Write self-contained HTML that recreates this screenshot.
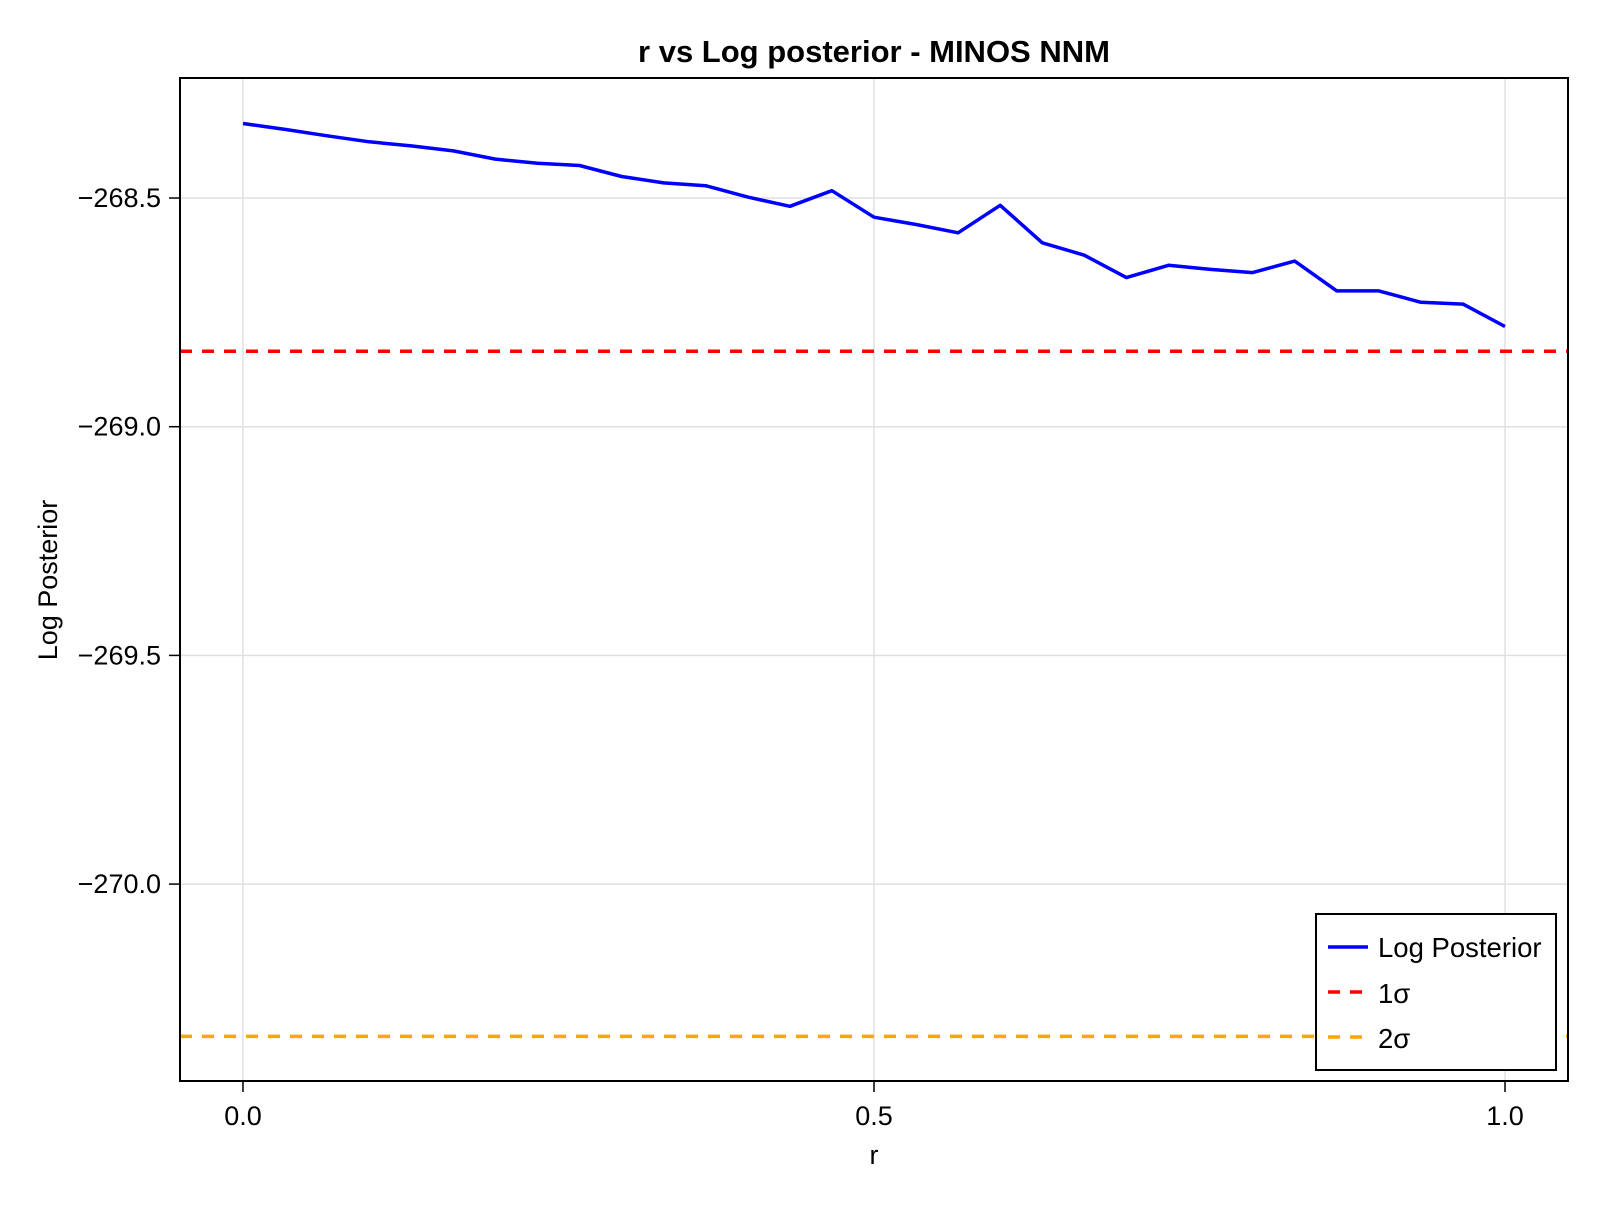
<!DOCTYPE html>
<html><head><meta charset="utf-8"><style>
html,body{margin:0;padding:0;background:#fff}
text{font-family:"Liberation Sans",sans-serif;fill:#000}
</style></head><body>
<svg id="chart" width="1600" height="1200" viewBox="0 0 1600 1200" xmlns="http://www.w3.org/2000/svg">
<rect width="1600" height="1200" fill="#fff"/>
<text x="874" y="62" text-anchor="middle" font-size="31" font-weight="bold">r vs Log posterior - MINOS NNM</text>
<g id="grid"></g>
<g id="lines"></g>
<rect x="180" y="78" width="1388" height="1003" fill="none" stroke="#000" stroke-width="2"/>
<g id="ticks"></g>
<text x="874" y="1164" text-anchor="middle" font-size="27">r</text>
<text transform="translate(57,580) rotate(-90)" text-anchor="middle" font-size="27">Log Posterior</text>
<g id="legend">
<rect x="1316" y="914" width="240" height="156" fill="#fff" stroke="#000" stroke-width="2"/>
<line x1="1328" y1="947" x2="1368" y2="947" stroke="#00f" stroke-width="3.5"/>
<text x="1378" y="957" font-size="27.5">Log Posterior</text>
<line x1="1328" y1="992" x2="1368" y2="992" stroke="#f00" stroke-width="3.5" stroke-dasharray="12,10"/>
<text x="1378" y="1003" font-size="27.5">1σ</text>
<line x1="1328" y1="1037" x2="1368" y2="1037" stroke="#ffa500" stroke-width="3.5" stroke-dasharray="12,10"/>
<text x="1378" y="1048" font-size="27.5">2σ</text>
</g>
</svg>
<script>
const rValues = [0,1/30,2/30,3/30,4/30,5/30,6/30,7/30,8/30,9/30,10/30,11/30,12/30,13/30,14/30,15/30,16/30,17/30,18/30,19/30,20/30,21/30,22/30,23/30,24/30,25/30,26/30,27/30,28/30,29/30,1];
const logPosterior = [-268.337,-268.350,-268.364,-268.377,-268.386,-268.397,-268.415,-268.424,-268.429,-268.453,-268.467,-268.473,-268.498,-268.518,-268.484,-268.542,-268.558,-268.576,-268.516,-268.598,-268.625,-268.674,-268.647,-268.656,-268.663,-268.638,-268.703,-268.703,-268.728,-268.732,-268.781];
const sigma1 = -268.835;
const sigma2 = -270.333;
const xTicks = [0,0.5,1.0];
const xTickLabels = ["0.0","0.5","1.0"];
const yTicks = [-268.5,-269.0,-269.5,-270.0];
const yTickLabels = ["−268.5","−269.0","−269.5","−270.0"];

const L=180,R=1568,T=78,B=1081;
const xMin=-0.0499,xMax=1.0499,yMin=-270.4305,yMax=-268.2376;
function xs(v){return L+(v-xMin)/(xMax-xMin)*(R-L);}
function ys(v){return B-(v-yMin)/(yMax-yMin)*(B-T);}
const NS="http://www.w3.org/2000/svg";
function mk(tag,attrs,parent){const e=document.createElementNS(NS,tag);for(const k in attrs)e.setAttribute(k,attrs[k]);parent.appendChild(e);return e;}
const grid=document.getElementById('grid'),ticks=document.getElementById('ticks'),lines=document.getElementById('lines');
xTicks.forEach((t,i)=>{
  const x=xs(t);
  const g=mk('line',{x1:x,y1:T,x2:x,y2:B,stroke:'#e0e0e0','stroke-width':1.5},grid);
  
  
  const tk=mk('line',{x1:x,y1:B,x2:x,y2:B+11,stroke:'#000','stroke-width':1.5},ticks);
  
  
  const tl=mk('text',{x:x,y:1125,'text-anchor':'middle','font-size':27},ticks);
  tl.textContent=xTickLabels[i];
  
  
});
yTicks.forEach((t,i)=>{
  const y=ys(t);
  const g=mk('line',{x1:L,y1:y,x2:R,y2:y,stroke:'#e0e0e0','stroke-width':1.5},grid);
  
  
  const tk=mk('line',{x1:L-11,y1:y,x2:L,y2:y,stroke:'#000','stroke-width':1.5},ticks);
  
  
  const tl=mk('text',{x:L-19,y:y+9,'text-anchor':'end','font-size':27},ticks);
  tl.textContent=yTickLabels[i];
  
  
});
const s1=mk('line',{x1:L,y1:ys(sigma1),x2:R,y2:ys(sigma1),stroke:'#f00','stroke-width':3.5,'stroke-dasharray':'12,10'},lines);


const s2=mk('line',{x1:L,y1:ys(sigma2),x2:R,y2:ys(sigma2),stroke:'#ffa500','stroke-width':3.5,'stroke-dasharray':'12,10'},lines);


const pts=rValues.map((r,i)=>xs(r).toFixed(1)+','+ys(logPosterior[i]).toFixed(1)).join(' ');
const pl=mk('polyline',{points:pts,fill:'none',stroke:'#00f','stroke-width':3.5,'stroke-linejoin':'round'},lines);


</script>
</body></html>
